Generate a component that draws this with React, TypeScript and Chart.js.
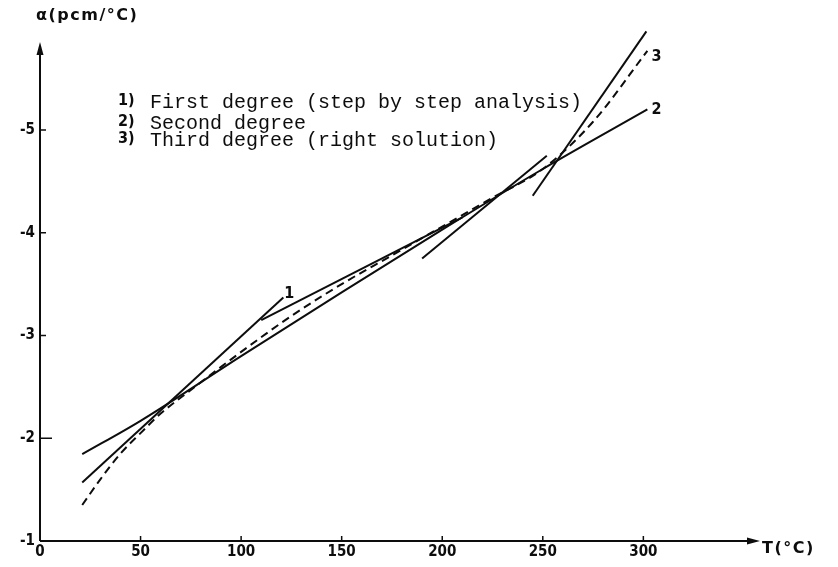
import { useEffect, useRef } from "react";
import { Chart, registerables } from "chart.js";

Chart.register(...registerables);

// Axis ticks
const xTickValues = [0, 50, 100, 150, 200, 250, 300];
const yTickValues = [-1, -2, -3, -4, -5];

// 1) First degree (step by step analysis): four straight pieces
const firstDegreeT = [
  [21, 121],
  [110, 210],
  [190, 252],
  [245, 301.5],
];
const firstDegreeAlpha = [
  [-1.57, -3.37],
  [-3.15, -4.15],
  [-3.75, -4.75],
  [-4.36, -5.96],
];

// 2) Second degree
const secondDegreeT = [21, 50, 100, 150, 200, 250, 302];
const secondDegreeAlpha = [-1.845, -2.17, -2.8, -3.42, -4.03, -4.62, -5.2];

// 3) Third degree (right solution)
const thirdDegreeT = [21, 30, 40, 50, 60, 75, 100, 125, 150, 175, 200, 225, 250, 275, 302];
const thirdDegreeAlpha = [
  -1.35, -1.6, -1.85, -2.05, -2.24, -2.47, -2.84, -3.19, -3.5, -3.78, -4.06, -4.34, -4.62, -5.08,
  -5.77,
];

const legendNumbers = ["1)", "2)", "3)"];
const legendTexts = [
  "First degree (step by step analysis)",
  "Second degree",
  "Third degree (right solution)",
];

// curve tags: [label, T, alpha]
const curveTags: [string, number, number][] = [
  ["1", 121.5, -3.41],
  ["2", 304, -5.2],
  ["3", 304, -5.71],
];

const INK = "#0d0d0d";
const NUM_FONT = "'Liberation Sans Narrow', 'DejaVu Sans Condensed', 'Liberation Sans', sans-serif";
const TITLE_FONT = "'DejaVu Sans', 'Liberation Sans', sans-serif";
const TYPE_FONT = "'Liberation Mono', 'DejaVu Sans Mono', monospace";

const points = (ts: number[], as: number[]) => ts.map((t, i) => ({ x: t, y: as[i] }));

const framePlugin = {
  id: "frame",
  afterDatasetsDraw(chart: any) {
    const { ctx } = chart;
    const xs = chart.scales.x;
    const ys = chart.scales.y;
    const left = xs.left;
    const bottom = ys.bottom;
    const top = ys.top;
    const right = xs.right;
    ctx.save();
    ctx.strokeStyle = INK;
    ctx.fillStyle = INK;
    ctx.lineWidth = 2;
    ctx.lineCap = "butt";

    // axes
    ctx.beginPath();
    ctx.moveTo(left, bottom);
    ctx.lineTo(right - 8, bottom);
    ctx.moveTo(left, bottom);
    ctx.lineTo(left, top + 8);
    ctx.stroke();

    // arrowheads
    ctx.beginPath();
    ctx.moveTo(right, bottom);
    ctx.lineTo(right - 13, bottom - 3.5);
    ctx.lineTo(right - 13, bottom + 3.5);
    ctx.closePath();
    ctx.fill();
    ctx.beginPath();
    ctx.moveTo(left, top);
    ctx.lineTo(left - 3.5, top + 13);
    ctx.lineTo(left + 3.5, top + 13);
    ctx.closePath();
    ctx.fill();

    // tick marks
    ctx.lineWidth = 1.5;
    ctx.beginPath();
    xTickValues.slice(1).forEach((v) => {
      const px = xs.getPixelForValue(v);
      ctx.moveTo(px, bottom);
      ctx.lineTo(px, bottom - 5);
    });
    yTickValues.slice(1).forEach((v) => {
      const py = ys.getPixelForValue(v);
      ctx.moveTo(left, py);
      ctx.lineTo(left + (v === -2 ? 12 : 6), py);
    });
    ctx.stroke();

    // axis titles
    ctx.textBaseline = "middle";
    ctx.textAlign = "left";
    ctx.font = `bold 16px ${TITLE_FONT}`;
    ctx.letterSpacing = "1.5px";
    ctx.fillText("\u03b1(pcm/\u00b0C)", left - 4, top - 26);
    ctx.fillText("T(\u00b0C)", right + 2, bottom + 8);
    ctx.letterSpacing = "0px";

    // curve tags
    ctx.font = `bold 16px ${NUM_FONT}`;
    curveTags.forEach(([label, t, a]) => {
      ctx.fillText(label, xs.getPixelForValue(t), ys.getPixelForValue(a));
    });

    // legend block
    const legendX = left + 78;
    const rows = [101, 122, 139];
    legendNumbers.forEach((n, i) => {
      ctx.font = `bold 16px ${NUM_FONT}`;
      ctx.fillText(n, legendX, rows[i]);
      ctx.font = `20px ${TYPE_FONT}`;
      ctx.fillText(legendTexts[i], legendX + 32, rows[i] + 2);
    });
    ctx.restore();
  },
};

export default function App() {
  const canvasRef = useRef<HTMLCanvasElement | null>(null);

  useEffect(() => {
    const canvas = canvasRef.current;
    if (!canvas) return;

    const solid = {
      borderColor: INK,
      borderWidth: 2,
      pointRadius: 0,
      fill: false,
      clip: false as const,
    };

    const datasets: any[] = firstDegreeT.map((ts, i) => ({
      ...solid,
      label: `first-${i}`,
      data: points(ts, firstDegreeAlpha[i]),
      tension: 0,
    }));
    datasets.push({
      ...solid,
      label: "second",
      data: points(secondDegreeT, secondDegreeAlpha),
      cubicInterpolationMode: "monotone",
    });
    datasets.push({
      ...solid,
      label: "third",
      borderDash: [8, 5],
      data: points(thirdDegreeT, thirdDegreeAlpha),
      cubicInterpolationMode: "monotone",
    });

    const chart = new Chart(canvas, {
      type: "line",
      data: { datasets },
      options: {
        animation: false,
        responsive: false,
        devicePixelRatio: 1,
        layout: { padding: { top: 42, right: 78, left: 0, bottom: 0 } },
        plugins: { legend: { display: false }, tooltip: { enabled: false } },
        scales: {
          x: {
            type: "linear",
            min: 0,
            max: 358,
            grid: { display: false, drawTicks: false },
            border: { display: false },
            afterBuildTicks: (s: any) => {
              s.ticks = xTickValues.map((v) => ({ value: v }));
            },
            afterFit: (s: any) => {
              s.height = 26;
            },
            ticks: {
              color: INK,
              padding: 2,
              maxRotation: 0,
              autoSkip: false,
              font: { family: NUM_FONT, size: 15, weight: "bold" },
              callback: (v: any) => String(v),
            },
          },
          y: {
            type: "linear",
            min: -5.856,
            max: -1,
            reverse: true,
            grid: { display: false, drawTicks: false },
            border: { display: false },
            afterBuildTicks: (s: any) => {
              s.ticks = yTickValues.map((v) => ({ value: v }));
            },
            afterFit: (s: any) => {
              s.width = 40;
            },
            ticks: {
              color: INK,
              padding: 5,
              autoSkip: false,
              font: { family: NUM_FONT, size: 15, weight: "bold" },
              callback: (v: any) => String(v),
            },
          },
        },
      },
      plugins: [framePlugin],
    });

    return () => chart.destroy();
  }, []);

  return (
    <div style={{ position: "fixed", left: 0, top: 0, width: 838, height: 567, background: "#fff" }}>
      <canvas ref={canvasRef} width={838} height={567} />
    </div>
  );
}
